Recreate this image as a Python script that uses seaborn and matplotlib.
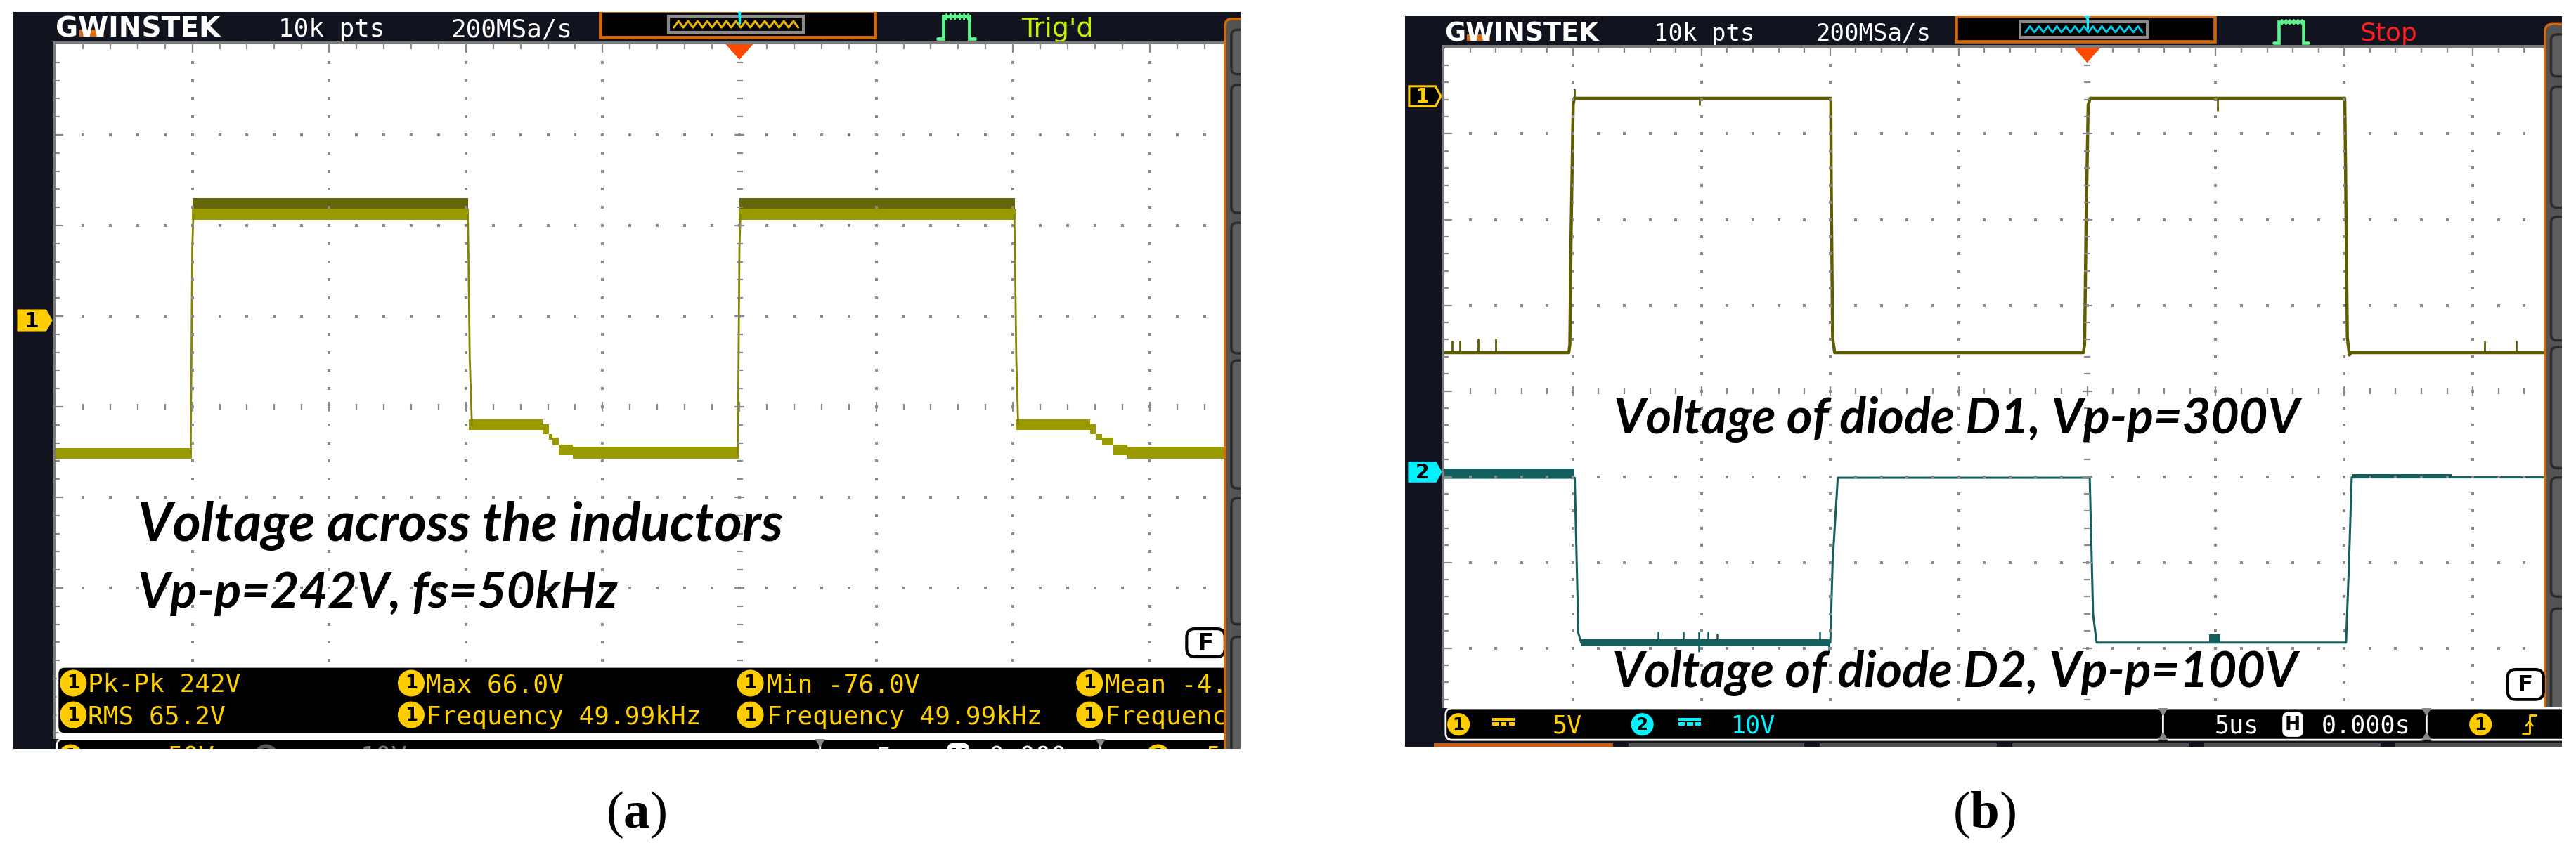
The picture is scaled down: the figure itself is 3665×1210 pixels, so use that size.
import numpy as np
import pandas as pd
import matplotlib
matplotlib.use("Agg")
import matplotlib.pyplot as plt
import seaborn as sns
from matplotlib.patches import Rectangle, FancyBboxPatch, Polygon, Ellipse
from matplotlib.collections import LineCollection

sns.set_theme(style="white")
plt.rcParams['font.family'] = ['DejaVu Sans']
plt.rcParams['mathtext.fontset'] = 'custom'
plt.rcParams['mathtext.rm'] = 'Liberation Serif'
plt.rcParams['mathtext.bf'] = 'Liberation Serif:bold'

# ======================= DATA =======================
TDIV = 5.0  # us / div, trigger at t = 0

# ---- panel (a): voltage across the inductors, CH1 50 V/div ----
a_vdiv = 50.0
a_time  = [-25.0, -20.01, -9.90, -7.19, -6.96, -6.83, -6.60, -6.09, -0.02, 10.10, 12.82, 13.03, 13.26, 13.67, 14.18, 17.9]
a_upper = [-70.5, 61.6, -54.7, -57.5, -62.8, -64.7, -68.6, -69.8, 61.6, -54.7, -57.5, -62.8, -64.7, -68.6, -69.8, -69.8]
a_lower = [-76.4, 55.4, -60.5, -62.8, -65.9, -69.0, -74.4, -76.4, 55.4, -60.5, -62.8, -65.9, -69.0, -74.4, -76.4, -76.4]
a_noise_start = [-19.99, 0.00]
a_noise_end   = [-9.92, 10.08]
a_noise_top, a_noise_bottom = 67.4, 61.6
a_edge_time = [[-20.06, -20.03, -20.00, -19.96], [-9.93, -9.90, -9.86, -9.78],
               [-0.06, -0.03, 0.00, 0.04], [10.05, 10.08, 10.12, 10.19]]
a_edge_volt = [[-73.5, -20.0, 40.0, 58.5], [58.5, 30.0, -20.0, -57.6],
               [-73.5, -20.0, 40.0, 58.5], [58.5, 30.0, -20.0, -57.6]]

# ---- panel (b): diode voltages, CH1 5 V/div, CH2 10 V/div ----
b1_vdiv = 5.0
b1_time = [-25.0, -20.16, -20.12, -20.07, -19.99, -19.95, -9.97, -9.96, -9.90, -9.82,
           -0.15, -0.10, -0.04, 0.04, 0.12, 10.02, 10.05, 10.12, 10.20, 10.26, 17.9]
b1_volt = [-14.96, -14.96, -14.5, -7.9, -0.5, -0.12, -0.12, -4.1, -14.1, -14.96,
           -14.96, -14.5, -7.3, -0.5, -0.12, -0.12, -4.1, -14.1, -15.1, -14.96, -14.96]
b1_spike_time = [-24.7, -24.4, -23.7, -23.0, -19.95, -15.08, 5.08, 15.45, 16.7]
b1_spike_from = [-14.96, -14.96, -14.96, -14.96, -0.12, -0.12, -0.12, -14.96, -14.96]
b1_spike_to   = [-14.3, -14.3, -14.2, -14.2, 0.4, -0.5, -0.8, -14.3, -14.3]

b2_vdiv = 10.0
b2_time = [-25.0, -19.93, -19.79, -19.68, -9.99, -9.90, -9.70, 0.10, 0.23, 0.37, 10.07, 10.18, 10.29, 17.9]
b2_volt = [-0.66, -0.66, -18.8, -19.9, -19.9, -10.5, -0.66, -0.66, -16.6, -19.9, -19.9, -11.0, -0.62, -0.62]
b2_band_start = [-25.0, -19.68, 4.75, 10.29]
b2_band_end   = [-19.93, -9.99, 5.18, 14.17]
b2_band_low   = [-0.70, -20.3, -19.9, -0.72]
b2_band_high  = [0.45, -19.5, -18.9, -0.25]
b2_spike_time = [-16.7, -15.7, -15.1, -14.75, -14.4, -10.4, -15.1, -10.05]
b2_spike_from = [-19.9] * 8
b2_spike_to   = [-18.7, -18.7, -18.7, -18.7, -18.9, -18.7, -20.9, -20.9]

# on-screen readouts
a_meas_row1 = ["Pk-Pk 242V", "Max 66.0V", "Min -76.0V", "Mean -4.00V"]
a_meas_row2 = ["RMS 65.2V", "Frequency 49.99kHz", "Frequency 49.99kHz", "Frequency 49.99kHz"]
a_notes = ["Voltage across the inductors", "Vp-p=242V, fs=50kHz"]
b_notes = ["Voltage of diode D1, Vp-p=300V", "Voltage of diode D2, Vp-p=100V"]

# ======================= STYLE / LAYOUT =======================
W, H = 3665, 1210
DARK = '#11141e'
GRIDC = '#8a8a8a'
YEL = '#ffcc00'
CYAN = '#00f2ff'
ORANGE = '#d2690a'
MONO = 'DejaVu Sans Mono'
NOTE_FONT = ['Lato', 'DejaVu Sans']

PANELS = {
    'a': dict(frame=(19, 17, 1765, 1066), gx0=79.0, gy0=63.0, dx=194.6, dy=129.0,
              right=1743.0, bottom=1052.0),
    'b': dict(frame=(1999, 23, 3645, 1063), gx0=2055.0, gy0=68.5, dx=182.9, dy=122.0,
              right=3621.0, bottom=1008.0),
}

fig = plt.figure(figsize=(W / 100, H / 100), dpi=100)
fig.patch.set_facecolor('white')
bg = fig.add_axes([0, 0, 1, 1], zorder=0)
bg.set_xlim(0, W); bg.set_ylim(H, 0); bg.axis('off')

fit_list = []


def make_panel(P):
    x0, y0, x1, y1 = P['frame']
    gx0, gy0, dx, dy = P['gx0'], P['gy0'], P['dx'], P['dy']
    nx = (P['right'] - gx0) / dx
    nyv = (P['bottom'] - gy0) / dy
    P['nx'], P['nyv'] = nx, nyv
    bg.add_patch(Rectangle((x0, y0), x1 - x0, y1 - y0, fc=DARK, ec='none', zorder=0))
    ga = fig.add_axes([gx0 / W, 1 - P['bottom'] / H, nx * dx / W, nyv * dy / H], zorder=2)
    ga.set_facecolor('white')
    ga.set_xlim(-5 * TDIV, (nx - 5) * TDIV)
    ga.set_ylim(4 - nyv, 4)
    oa = fig.add_axes([x0 / W, 1 - y1 / H, (x1 - x0) / W, (y1 - y0) / H], zorder=3)
    oa.set_xlim(x0, x1); oa.set_ylim(y1, y0); oa.axis('off')
    X = lambda u: gx0 + u * dx
    Y = lambda v: gy0 + v * dy
    return ga, oa, X, Y


def finish_grid_axes(ga):
    for sp in ga.spines.values():
        sp.set_visible(False)
    ga.set_xticks([]); ga.set_yticks([])
    ga.set_xlabel(''); ga.set_ylabel('')
    leg = ga.get_legend()
    if leg is not None:
        leg.remove()


def draw_grid(ga, P):
    nx, nyv, dx, dy = P['nx'], P['nyv'], P['dx'], P['dy']
    tx = lambda u: (np.asarray(u, dtype=float) - 5.0) * TDIV
    minor_u = np.round(np.arange(1, int(nx * 5) + 1) * 0.2, 4)
    minor_u = minor_u[minor_u < nx - 0.02]
    minor_v = np.round(4 - np.arange(1, int(nyv * 5) + 1) * 0.2, 4)
    minor_v = minor_v[minor_v > 4 - nyv + 0.02]
    xs, ys = [], []
    for u in range(1, int(np.floor(nx)) + 1):
        if u == 5:
            continue
        xs += [u] * len(minor_v); ys += list(minor_v)
    for v in [3, 2, 1, -1, -2, -3]:
        if v <= 4 - nyv:
            continue
        xs += list(minor_u); ys += [v] * len(minor_u)
    ga.scatter(tx(xs), ys, marker='s', s=5.5, color=GRIDC, linewidths=0, zorder=6)
    segs = []
    ismaj = lambda z: abs(z - round(z)) < 1e-6
    for u in minor_u:
        h = (7 if ismaj(u) else 4.5) / dy
        segs.append([(tx(u), -h), (tx(u), h)])
        L = (12 if ismaj(u) else 7) / dy
        segs.append([(tx(u), 4), (tx(u), 4 - L)])
    for v in minor_v:
        w = (7 if ismaj(v) else 4.5) / dx * TDIV
        segs.append([(tx(5) - w, v), (tx(5) + w, v)])
        L = (11 if ismaj(v) else 6) / dx * TDIV
        segs.append([(tx(0), v), (tx(0) + L, v)])
    ga.add_collection(LineCollection(segs, colors=GRIDC, linewidths=1.6, zorder=6))


def pent_marker(oa, xa, xb, yc, hh, fc, ec, label, tc, s):
    pts = [(xa, yc - hh), (xb - 8 * s, yc - hh), (xb, yc), (xb - 8 * s, yc + hh), (xa, yc + hh)]
    oa.add_patch(Polygon(pts, closed=True, fc=fc, ec=ec, lw=2.2, zorder=8))
    oa.text((xa + xb - 8 * s) / 2, yc + 1, label, color=tc, fontsize=30 * 0.72 * s, family='DejaVu Sans',
            fontweight='bold', ha='center', va='center', zorder=9, clip_on=True)


def circle_label(oa, x, y, r, fc, label, tc, s):
    oa.add_patch(Ellipse((x, y), 2 * r, 2 * r, fc=fc, ec='none', zorder=8))
    oa.text(x, y + 1, label, color=tc, fontsize=26 * 0.72 * s, family='DejaVu Sans', fontweight='bold',
            ha='center', va='center', zorder=9, clip_on=True)


def chrome(oa, P, X, Y, status, status_color, wave_color, status_u, ch_items, fbox_v):
    x0, y0, x1, y1 = P['frame']
    dx, dy = P['dx'], P['dy']
    s = dy / 129.0
    fs = lambda px: px * 0.72 * s
    # grid borders
    oa.add_patch(Rectangle((P['gx0'] - 4, P['gy0'] - 4), P['right'] - P['gx0'] + 4, 4, fc='#7c7c7c', ec='none', zorder=5))
    oa.add_patch(Rectangle((P['gx0'] - 4, P['gy0'] - 4), 4, P['bottom'] - P['gy0'] + 4, fc='#7c7c7c', ec='none', zorder=5))
    # logo
    oa.add_patch(Rectangle((X(0.175), Y(-0.16)), 0.18 * dx, 0.075 * dy, fc='#d9700f', ec='none', zorder=4))
    t = oa.text(X(0.0), Y(-0.085), 'GWINSTEK', color='white', fontsize=fs(40), family='DejaVu Sans',
                fontweight='bold', va='baseline', zorder=5, clip_on=True)
    fit_list.append((t, 1.2 * dx))
    oa.text(X(1.63), Y(-0.085), '10k pts', color='white', fontsize=fs(36), family=MONO, va='baseline', clip_on=True)
    oa.text(X(2.89), Y(-0.085), '200MSa/s', color='white', fontsize=fs(36), family=MONO, va='baseline', clip_on=True)
    # overview box
    oa.add_patch(Rectangle((X(3.98), Y(-0.375)), 2.01 * dx, 0.30 * dy, fc='black', ec=ORANGE, lw=3.5 * s, zorder=4))
    oa.add_patch(Rectangle((X(4.48), Y(-0.31)), 0.99 * dx, 0.18 * dy, fc='black', ec='#8c8c8c', lw=3 * s, zorder=5))
    zu = np.linspace(4.52, 5.43, 27)
    zv = -0.22 + 0.035 * np.resize([1, -1], zu.size)
    oa.plot(X(zu), Y(zv), color=wave_color, lw=2.2 * s, zorder=6)
    oa.add_patch(Polygon([(X(4.975), Y(-0.375)), (X(5.025), Y(-0.375)), (X(5.0), Y(-0.32))], fc=CYAN, ec='none', zorder=7))
    oa.plot([X(5.0), X(5.0)], [Y(-0.34), Y(-0.23)], color=CYAN, lw=2.5 * s, zorder=7)
    # trigger icon
    tu = [6.45, 6.49, 6.49, 6.68, 6.68, 6.72]
    tv = [-0.06, -0.06, -0.31, -0.31, -0.06, -0.06]
    oa.plot(X(np.array(tu)), Y(np.array(tv)), color='#5cf590', lw=3.5 * s, zorder=6, solid_joinstyle='miter')
    for uu in np.arange(6.51, 6.67, 0.032):
        oa.plot([X(uu), X(uu)], [Y(-0.335), Y(-0.28)], color='#5cf590', lw=2.2 * s, zorder=6)
    oa.text(X(status_u), Y(-0.085), status, color=status_color, fontsize=fs(38), family='DejaVu Sans',
            va='baseline', clip_on=True)
    # trigger position marker
    oa.add_patch(Polygon([(X(4.9), Y(0.0)), (X(5.1), Y(0.0)), (X(5.0), Y(0.17))], fc='#ff4800', ec='none', zorder=7))
    # right soft-menu panel
    mx = P['right']
    oa.add_patch(FancyBboxPatch((mx, Y(-0.28)), 80, Y(8.0) - Y(-0.28), boxstyle='round,pad=0,rounding_size=10',
                                fc='#545454', ec=ORANGE, lw=2.5, zorder=6))
    for v0, v1 in [(-0.16, 0.33), (0.45, 1.86), (1.97, 3.41), (3.49, 4.9), (5.01, 6.40), (6.54, 7.89)]:
        oa.add_patch(FancyBboxPatch((mx + 9 * s, Y(v0)), 80, Y(v1) - Y(v0), boxstyle='round,pad=0,rounding_size=8',
                                    fc='#5e5e5e', ec='#2b2b2b', lw=2.5, zorder=7))
    # bottom status bar
    vb = (P['bottom'] - P['gy0']) / dy
    bh = 0.37
    for ua, ub in [(0.01, 5.59), (5.59, 7.64), (7.64, 9.5)]:
        oa.add_patch(FancyBboxPatch((X(ua), Y(vb)), X(ub) - X(ua), bh * dy, boxstyle='round,pad=0,rounding_size=9',
                                    fc='black', ec='white', lw=2.0, zorder=7))
    for us in [5.59, 7.64]:
        oa.add_patch(Polygon([(X(us) - 7, Y(vb)), (X(us) + 7, Y(vb)), (X(us), Y(vb) + 12 * s)], fc='#888888', ec='none', zorder=8))
        oa.add_patch(Polygon([(X(us) - 7, Y(vb + bh)), (X(us) + 7, Y(vb + bh)), (X(us), Y(vb + bh) - 12 * s)], fc='#888888', ec='none', zorder=8))
    yc = Y(vb + 0.19)
    for kind, u, col, lab in ch_items:
        if kind == 'circ':
            circle_label(oa, X(u), yc, 17 * s, col, lab, 'black', s)
        elif kind == 'dc':
            oa.add_patch(Rectangle((X(u) - 17 * s, yc - 10 * s), 34 * s, 4 * s, fc=col, ec='none', zorder=8))
            for k in range(3):
                oa.add_patch(Rectangle((X(u) - 17 * s + k * 12.5 * s, yc - 3 * s), 9 * s, 4.5 * s, fc=col, ec='none', zorder=8))
        elif kind == 'text':
            oa.text(X(u), yc + 13 * s, lab, color=col, fontsize=fs(37), family=MONO, va='baseline', zorder=8, clip_on=True)
        elif kind == 'H':
            oa.add_patch(FancyBboxPatch((X(u) - 15 * s, yc - 18 * s), 30 * s, 36 * s, boxstyle='round,pad=0,rounding_size=8',
                                        fc='white', ec='white', zorder=8))
            oa.text(X(u), yc + 1, 'H', color='black', fontsize=fs(28), family='DejaVu Sans', fontweight='bold',
                    ha='center', va='center', zorder=9, clip_on=True)
        elif kind == 'edge':
            ex = [X(u) - 12 * s, X(u) - 2 * s, X(u) - 2 * s, X(u) + 8 * s]
            ey = [yc + 14 * s, yc + 14 * s, yc - 14 * s, yc - 14 * s]
            oa.plot(ex, ey, color=col, lw=2.2 * s, zorder=8)
            oa.plot([X(u) - 7 * s, X(u) - 2 * s, X(u) + 3 * s], [yc + 2 * s, yc - 4 * s, yc + 2 * s], color=col, lw=2 * s, zorder=8)
    # bottom menu tabs
    vt0 = vb + bh + 0.04
    oa.add_patch(Rectangle((X(-0.08), Y(vt0)), 1.39 * dx, 0.3 * dy, fc='#c85a0a', ec='none', zorder=7))
    for ua, ub in [(1.43, 2.8), (2.92, 4.3), (4.42, 5.79), (5.91, 7.28), (7.4, 8.7)]:
        oa.add_patch(Rectangle((X(ua), Y(vt0)), (ub - ua) * dx, 0.3 * dy, fc='#505050', ec='none', zorder=7))
    # F box
    fv0, fv1 = fbox_v
    oa.add_patch(FancyBboxPatch((X(8.27), Y(fv0)), 0.28 * dx, Y(fv1) - Y(fv0), boxstyle='round,pad=0,rounding_size=12',
                                fc='white', ec='black', lw=3.0, zorder=6))
    oa.text(X(8.41), (Y(fv0) + Y(fv1)) / 2 + 1, 'F', color='black', fontsize=fs(34), family='DejaVu Sans',
            fontweight='bold', ha='center', va='center', zorder=7, clip_on=True)


def add_lines(ga, times, values, color, lw, z=4):
    rows = []
    for k, (tt, vv) in enumerate(zip(times, values)):
        for a, b in zip(tt, vv):
            rows.append((k, a, b))
    df = pd.DataFrame(rows, columns=['seg', 't', 'y'])
    sns.lineplot(data=df, x='t', y='y', units='seg', estimator=None, sort=False,
                 color=color, lw=lw, ax=ga, zorder=z)


# ======================= PANEL (a) =======================
Pa = PANELS['a']
ga, oa, X, Y = make_panel(Pa)
a_gnd_div = 4 - (456.0 - Pa['gy0']) / Pa['dy']
to_a = lambda v: np.asarray(v, dtype=float) / a_vdiv + a_gnd_div
ga.fill_between(a_time, to_a(a_lower), to_a(a_upper), step='post', color='#999900', lw=0, zorder=3)
for t0, t1 in zip(a_noise_start, a_noise_end):
    ga.fill_between([t0, t1], to_a([a_noise_bottom] * 2), to_a([a_noise_top] * 2), color='#65650a', lw=0, zorder=3)
add_lines(ga, a_edge_time, [to_a(v) for v in a_edge_volt], '#858500', 2.0)
draw_grid(ga, Pa)
finish_grid_axes(ga)

a_items = [('circ', 0.11, YEL, '1'), ('dc', 0.46, YEL, ''), ('text', 0.82, YEL, '50V'),
           ('circ', 1.54, '#5a5a5a', '2'), ('dc', 1.91, '#5a5a5a', ''), ('text', 2.23, '#7a7a7a', '10V'),
           ('text', 6.0, 'white', '5us'), ('H', 6.6, 'white', ''), ('text', 6.82, 'white', '0.000s'),
           ('circ', 8.06, YEL, '1'), ('edge', 8.45, YEL, '')]
chrome(oa, Pa, X, Y, "Trig'd", '#c8f000', '#e8b400', 7.06, a_items, (6.45, 6.76))
pent_marker(oa, Pa['gx0'] - 53, Pa['gx0'] - 6, 456.0, 14, YEL, YEL, '1', 'black', 1.0)

# measurement bar
mb0, mb1 = 6.87, 7.61
oa.add_patch(FancyBboxPatch((X(0.015), Y(mb0)), X(9.0) - X(0.015), Y(mb1) - Y(mb0),
                            boxstyle='round,pad=0,rounding_size=10', fc='black', ec='white', lw=2.0, zorder=5))
for row, vrow in [(a_meas_row1, 7.05), (a_meas_row2, 7.40)]:
    for k, (uc, ut) in enumerate([(0.13, 0.236), (2.6, 2.71), (5.08, 5.2), (7.56, 7.67)]):
        circle_label(oa, X(uc), Y(vrow), 19, YEL, '1', 'black', 1.0)
        oa.text(X(ut), Y(vrow) + 13, row[k], color='#ffd000', fontsize=26, family=MONO,
                va='baseline', zorder=8, clip_on=True)
oa.add_patch(FancyBboxPatch((Pa['right'], Y(-0.28)), 80, 1200, boxstyle='round,pad=0,rounding_size=10',
                            fc='#545454', ec=ORANGE, lw=2.5, zorder=9))
for v0, v1 in [(-0.16, 0.33), (0.45, 1.86), (1.97, 3.41), (3.49, 4.9), (5.01, 6.40), (6.54, 7.89)]:
    oa.add_patch(FancyBboxPatch((Pa['right'] + 9, Y(v0)), 80, Y(v1) - Y(v0), boxstyle='round,pad=0,rounding_size=8',
                                fc='#5e5e5e', ec='#2b2b2b', lw=2.5, zorder=10))
t1 = oa.text(196, 770, a_notes[0], fontsize=48, family=NOTE_FONT, fontweight='bold', style='italic',
             color='black', va='baseline', zorder=6, clip_on=True)
t2 = oa.text(196, 865, a_notes[1], fontsize=48, family=NOTE_FONT, fontweight='bold', style='italic',
             color='black', va='baseline', zorder=6, clip_on=True)
fit_list += [(t1, 918), (t2, 683)]

# ======================= PANEL (b) =======================
Pb = PANELS['b']
gb, ob, Xb, Yb = make_panel(Pb)
b1_gnd_div = 4 - (137.0 - Pb['gy0']) / Pb['dy']
b2_gnd_div = 4 - (672.0 - Pb['gy0']) / Pb['dy']
to_b1 = lambda v: np.asarray(v, dtype=float) / b1_vdiv + b1_gnd_div
to_b2 = lambda v: np.asarray(v, dtype=float) / b2_vdiv + b2_gnd_div
CH1C, CH2C = '#5e5e00', '#145f5f'
for t0, t1_, lo, hi in zip(b2_band_start, b2_band_end, b2_band_low, b2_band_high):
    gb.fill_between([t0, t1_], to_b2([lo, lo]), to_b2([hi, hi]), color=CH2C, lw=0, zorder=3)
add_lines(gb, [b2_time], [to_b2(b2_volt)], CH2C, 2.2)
add_lines(gb, [[t, t] for t in b2_spike_time], [to_b2([a, b]) for a, b in zip(b2_spike_from, b2_spike_to)], CH2C, 1.8)
add_lines(gb, [b1_time], [to_b1(b1_volt)], CH1C, 3.2)
add_lines(gb, [[t, t] for t in b1_spike_time], [to_b1([a, b]) for a, b in zip(b1_spike_from, b1_spike_to)], CH1C, 2.0)
draw_grid(gb, Pb)
finish_grid_axes(gb)

b_items = [('circ', 0.11, YEL, '1'), ('dc', 0.46, YEL, ''), ('text', 0.84, YEL, '5V'),
           ('circ', 1.54, CYAN, '2'), ('dc', 1.91, CYAN, ''), ('text', 2.23, CYAN, '10V'),
           ('text', 5.99, 'white', '5us'), ('H', 6.6, 'white', ''), ('text', 6.82, 'white', '0.000s'),
           ('circ', 8.06, YEL, '1'), ('edge', 8.45, YEL, '')]
chrome(ob, Pb, Xb, Yb, 'Stop', '#ff1e1e', '#00c8e6', 7.12, b_items, (7.25, 7.6))
sb = Pb['dy'] / 129.0
pent_marker(ob, Pb['gx0'] - 53 * sb, Pb['gx0'] - 5, 137.0, 15 * sb, 'black', YEL, '1', YEL, sb)
pent_marker(ob, Pb['gx0'] - 53 * sb, Pb['gx0'] - 5, 672.0, 14 * sb, CYAN, CYAN, '2', 'black', sb)
t3 = ob.text(2296, 617, b_notes[0], fontsize=46, family=NOTE_FONT, fontweight='bold', style='italic',
             color='black', va='baseline', zorder=6, clip_on=True)
t4 = ob.text(2294, 978, b_notes[1], fontsize=46, family=NOTE_FONT, fontweight='bold', style='italic',
             color='black', va='baseline', zorder=6, clip_on=True)
fit_list += [(t3, 976), (t4, 975)]

# ======================= sub-figure labels =======================
bg.text(905, 1160, r'($\mathbf{a}$)', ha='center', va='center', fontsize=54, family='Liberation Serif', color='black')
bg.text(2823, 1160, r'($\mathbf{b}$)', ha='center', va='center', fontsize=54, family='Liberation Serif', color='black')

# fit widths of annotation texts
fig.canvas.draw()
r = fig.canvas.get_renderer()
for t, target in fit_list:
    w = t.get_window_extent(r).width
    if w > 0:
        t.set_fontsize(t.get_fontsize() * target / w)

fig.savefig('out.png', dpi=100, facecolor='white')
